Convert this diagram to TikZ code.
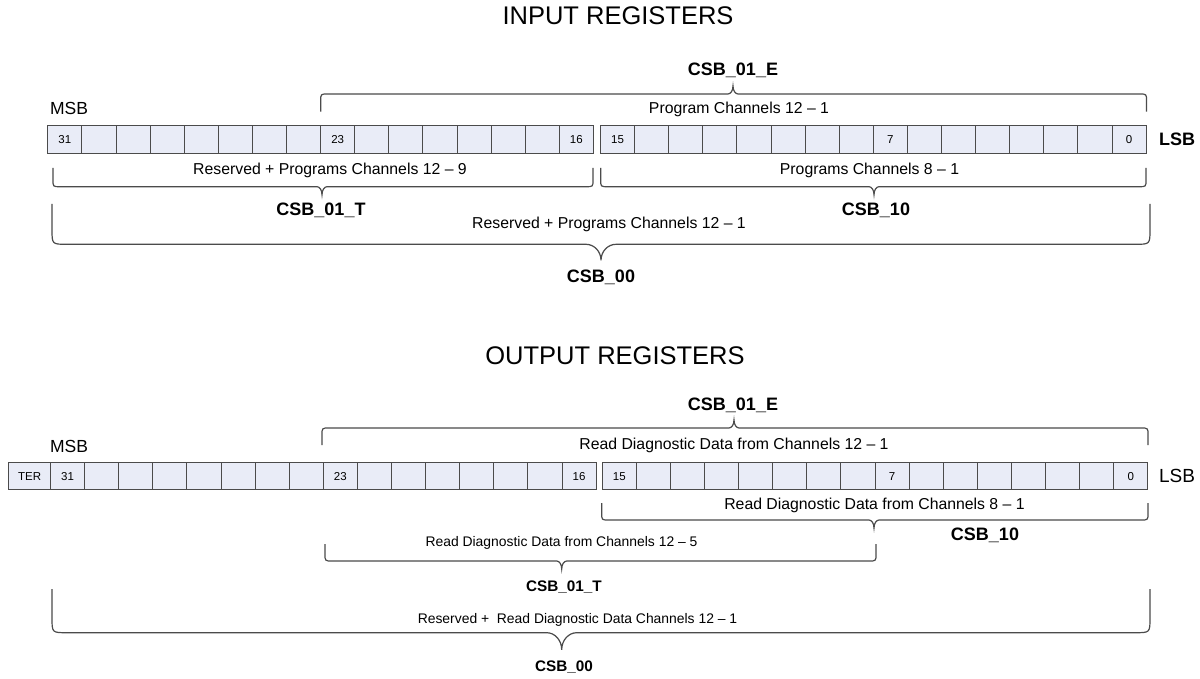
\documentclass[tikz,border=0pt]{standalone}
\usepackage{fontspec}
\setmainfont{Liberation Sans}
\definecolor{cellfill}{RGB}{233,236,247}
\definecolor{lnc}{RGB}{75,75,75}
\tikzset{
 cell/.style={draw=lnc, fill=cellfill, line width=1pt, minimum width=34.1pt, minimum height=27.3pt, inner sep=0pt, anchor=west, font=\fontsize{11.5}{13}\selectfont},
 brc/.style={draw=lnc, line width=1.2pt},
 lbl/.style={inner sep=0pt, font=\fontsize{15.8}{18}\selectfont},
 sml/.style={inner sep=0pt, font=\fontsize{13.9}{16}\selectfont},
 bld/.style={inner sep=0pt, font=\fontsize{18}{20}\selectfont\bfseries},
 sbld/.style={inner sep=0pt, font=\fontsize{15.3}{18}\selectfont\bfseries},
 side/.style={inner sep=0pt, font=\fontsize{17.5}{20}\selectfont},
 ttl/.style={inner sep=0pt, font=\fontsize{25.5}{28}\selectfont},
}
% brace opening upward, tip downward: x1,x2,yend,yline,r,xt,w,d
\newcommand{\bdown}[8]{\draw[brc] (#1,#3) -- (#1,{#4-#5}) .. controls (#1,#4) .. ({#1+#5},#4) -- ({#6-#7},#4) .. controls ({#6-0.45*#7},#4) and (#6,{#4+0.45*#8}) .. (#6,{#4+#8}) .. controls (#6,{#4+0.45*#8}) and ({#6+0.45*#7},#4) .. ({#6+#7},#4) -- ({#2-#5},#4) .. controls (#2,#4) .. (#2,{#4-#5}) -- (#2,#3);}
% brace opening downward, tip upward
\newcommand{\bup}[8]{\draw[brc] (#1,#3) -- (#1,{#4+#5}) .. controls (#1,#4) .. ({#1+#5},#4) -- ({#6-#7},#4) .. controls ({#6-0.45*#7},#4) and (#6,{#4-0.45*#8}) .. (#6,{#4-#8}) .. controls (#6,{#4-0.45*#8}) and ({#6+0.45*#7},#4) .. ({#6+#7},#4) -- ({#2-#5},#4) .. controls (#2,#4) .. (#2,{#4+#5}) -- (#2,#3);}
\begin{document}
\begin{tikzpicture}[x=1pt,y=-1pt]
\useasboundingbox[fill=white] (0,0) rectangle (1200,679);

% ---------------- INPUT ----------------
\node[ttl] (tin) at (618,16) {INPUT REGISTERS};
\foreach \t [count=\k from 0] in {31,{},{},{},{},{},{},{},23,{},{},{},{},{},{},16}
  \node[cell] (ia\k) at ({47.3+34.1*\k},139.5) {\t};
\foreach \t [count=\k from 0] in {15,{},{},{},{},{},{},{},7,{},{},{},{},{},{},0}
  \node[cell] (ib\k) at ({600+34.1*\k},139.5) {\t};
\node[side] (imsb) at (69,108) {MSB};
\node[side, font=\fontsize{18}{20}\selectfont\bfseries] (ilsb) at (1177,139.5) {LSB};

\bup{320.7}{1146.5}{111.7}{94}{7}{733}{5}{8}
\node[bld] (ie) at (733,70) {CSB\_01\_E};
\node[lbl] (iet) at (739,109) {Program Channels 12 – 1};

\bdown{53}{593}{168}{186.7}{7}{322}{5}{8}
\node[lbl] (itt) at (330,170) {Reserved + Programs Channels 12 – 9};
\node[bld] (it) at (321,210) {CSB\_01\_T};

\bdown{600.7}{1146}{168}{186.7}{7}{874}{5}{8}
\node[lbl] (i10t) at (869.5,170) {Programs Channels 8 – 1};
\node[bld] (i10) at (876,210) {CSB\_10};

\bdown{52}{1150}{204}{244.3}{15}{601}{15}{16}
\node[lbl] (i00t) at (609,224) {Reserved + Programs Channels 12 – 1};
\node[bld] (i00) at (601,277) {CSB\_00};

% ---------------- OUTPUT ----------------
\node[ttl] (tout) at (615,356) {OUTPUT REGISTERS};
\node[cell, minimum width=41.7pt] (oter) at (8.3,476.3) {TER};
\foreach \t [count=\k from 0] in {31,{},{},{},{},{},{},{},23,{},{},{},{},{},{},16}
  \node[cell] (oa\k) at ({50+34.1*\k},476.3) {\t};
\foreach \t [count=\k from 0] in {15,{},{},{},{},{},{},{},7,{},{},{},{},{},{},0}
  \node[cell] (ob\k) at ({601.7+34.1*\k},476.3) {\t};
\node[side] (omsb) at (69,446) {MSB};
\node[side, font=\fontsize{19}{21}\selectfont] (olsb) at (1177,476.3) {LSB};

\bup{322}{1148}{445}{428}{7}{734}{5}{8}
\node[bld] (oe) at (733,405) {CSB\_01\_E};
\node[lbl] (oet) at (734,445) {Read Diagnostic Data from Channels 12 – 1};

\bdown{601.7}{1148}{503}{520}{7}{874}{5}{8}
\node[lbl] (o10t) at (874.5,505) {Read Diagnostic Data from Channels 8 – 1};
\node[bld] (o10) at (985,535) {CSB\_10};

\bdown{325}{876}{544}{561}{7}{561.7}{5}{8}
\node[sml] (ott) at (561.5,543) {Read Diagnostic Data from Channels 12 – 5};
\node[sbld] (ot) at (564,587) {CSB\_01\_T};

\bdown{52}{1150}{589}{632.7}{15}{561.7}{15}{17}
\node[sml] (o00t) at (577.5,620) {Reserved +\ \ Read Diagnostic Data Channels 12 – 1};
\node[sbld] (o00) at (564,667) {CSB\_00};
\end{tikzpicture}
\end{document}
